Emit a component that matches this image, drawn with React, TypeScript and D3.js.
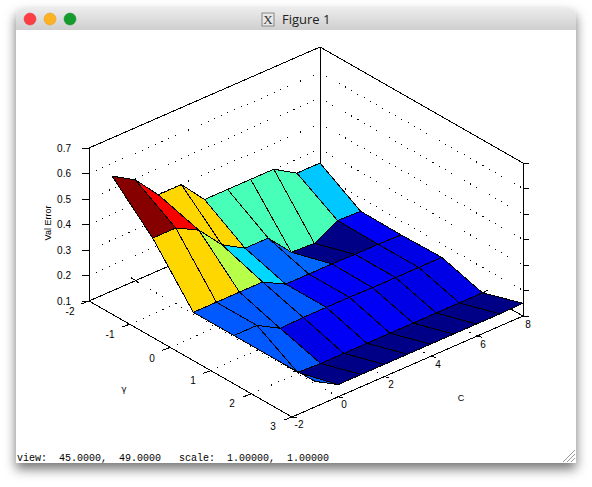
import React from "react";
import * as d3 from "d3";

const cValues = [-1, 0, 1, 2, 3, 4, 5, 6, 7, 8];
const gammaValues = [-2, -1, 0, 1, 2, 3];
const errGammaM2 = [0.55, 0.496, 0.398, 0.398, 0.3, 0.3, 0.3, 0.3, 0.245, 0.245];
const errGammaM1 = [0.398, 0.398, 0.35, 0.253, 0.2, 0.2, 0.105, 0.1, 0.15, 0.147];
const errGamma0 = [0.198, 0.198, 0.198, 0.198, 0.15, 0.15, 0.15, 0.148, 0.148, 0.145];
const errGamma1 = [0.198, 0.198, 0.147, 0.15, 0.15, 0.15, 0.148, 0.148, 0.148, 0.148];
const errGamma2 = [0.198, 0.105, 0.1, 0.1, 0.1, 0.1, 0.1, 0.1, 0.1, 0.1];
const errGamma3 = [0.2, 0.148, 0.148, 0.148, 0.148, 0.148, 0.148, 0.148, 0.148, 0.15];
const errRows = [errGammaM2, errGammaM1, errGamma0, errGamma1, errGamma2, errGamma3];

const zTicks = [0.1, 0.2, 0.3, 0.4, 0.5, 0.6, 0.7];
const gammaTicks = [-2, -1, 0, 1, 2, 3];
const cTicks = [-2, 0, 2, 4, 6, 8];
const statusText = "view:  45.0000,  49.0000   scale:  1.00000,  1.00000";

// Projection of the 3D box on the page
const cScale = d3.scaleLinear().domain([-2, 8]).range([0, 1]);
const gScale = d3.scaleLinear().domain([-2, 3]).range([0, 1]);
const zScale = d3.scaleLinear().domain([0.1, 0.7]).range([0, 153]);
const ORIGIN = [89, 301];
const C_VEC = [231, -101];
const G_VEC = [203, 116];
const project = (c: number, g: number, z: number): [number, number] => {
  const u = cScale(c);
  const v = gScale(g);
  return [ORIGIN[0] + u * C_VEC[0] + v * G_VEC[0], ORIGIN[1] + u * C_VEC[1] + v * G_VEC[1] - zScale(z)];
};

const jetLevel = d3.scaleQuantize<number>().domain([0.1, 0.55]).range(d3.range(64).map((i) => (i + 0.5) / 64));
const jet = (z: number) => {
  const t = jetLevel(z);
  const ch = (v: number) => Math.round(255 * Math.max(0, Math.min(1, v)));
  return d3.rgb(
    ch(Math.min(4 * t - 1.5, -4 * t + 4.5)),
    ch(Math.min(4 * t - 0.5, -4 * t + 3.5)),
    ch(Math.min(4 * t + 0.5, -4 * t + 2.5))
  ).formatHex();
};

const line = d3.line();
const SANS = "'Liberation Sans', Arial, sans-serif";
const zMin = 0.1;
const zMax = 0.7;

export default function App() {
  const faces: { key: string; d: string; fill: string }[] = [];
  for (let g = 0; g < gammaValues.length - 1; g++) {
    for (let c = cValues.length - 2; c >= 0; c--) {
      const pts = [
        project(cValues[c], gammaValues[g], errRows[g][c]),
        project(cValues[c + 1], gammaValues[g], errRows[g][c + 1]),
        project(cValues[c + 1], gammaValues[g + 1], errRows[g + 1][c + 1]),
        project(cValues[c], gammaValues[g + 1], errRows[g + 1][c]),
      ];
      faces.push({ key: `${g}-${c}`, d: line(pts)! + "Z", fill: jet(errRows[g][c]) });
    }
  }
  const seg = (a: [number, number], b: [number, number]) => line([a, b])!;
  const inner = gammaTicks.slice(1, -1);
  const innerC = cTicks.slice(1, -1);
  const dotted = [
    ...zTicks.slice(1, -1).flatMap((z) => [
      seg(project(-2, -2, z), project(8, -2, z)),
      seg(project(8, -2, z), project(8, 3, z)),
    ]),
    ...inner.map((g) => seg(project(-2, g, zMin), project(8, g, zMin))),
    ...innerC.map((c) => seg(project(c, 3, zMin), project(c, -2, zMin))),
  ];
  const backBox = [
    seg(project(-2, -2, zMin), project(8, -2, zMin)),
    seg(project(8, -2, zMin), project(8, 3, zMin)),
    seg(project(8, -2, zMin), project(8, -2, zMax)),
    seg(project(-2, -2, zMax), project(8, -2, zMax)),
    seg(project(8, -2, zMax), project(8, 3, zMax)),
    seg(project(-2, -2, zMin), project(-2, -2, zMax)),
    seg(project(8, 3, zMin), project(8, 3, zMax)),
  ];
  const [lx] = project(-2, -2, zMin);
  const [rx] = project(8, 3, zMin);
  const backTicks = [
    ...zTicks.map((z) => seg([lx - 7, project(-2, -2, z)[1]], [lx, project(-2, -2, z)[1]])),
    ...zTicks.map((z) => seg([rx, project(8, 3, z)[1]], [rx + 6, project(8, 3, z)[1]])),
    ...innerC.map((c) => {
      const [x, y] = project(c, -2, zMin);
      return seg([x - 4, y - 3], [x + 4, y + 2]);
    }),
    ...inner.map((g) => {
      const [x, y] = project(8, g, zMin);
      return seg([x - 1, y + 1], [x + 6, y - 3]);
    }),
  ];
  const frontAxes = [
    seg(project(-2, -2, zMin), project(-2, 3, zMin)),
    seg(project(-2, 3, zMin), project(8, 3, zMin)),
    ...gammaTicks.map((g) => {
      const [x, y] = project(-2, g, zMin);
      return seg([x - 8, y + 3], [x, y]);
    }),
    ...cTicks.map((c) => {
      const [x, y] = project(c, 3, zMin);
      return seg([x, y], [x + 5, y + 1]);
    }),
  ];
  const gammaLabelPos: [number, number][] = [[70, 311.5], [110, 334], [152, 358], [193, 380], [232, 403], [273, 426]];
  const cLabelPos: [number, number][] = [[299, 424], [344, 404], [391, 384], [438, 364], [483, 344], [528, 324]];
  const crisp = { shapeRendering: "crispEdges" as const };

  return (
    <svg width={592} height={487} style={{ position: "absolute", left: 0, top: 0, background: "#fff" }}>
      <defs>
        <linearGradient id="title" x1="0" y1="0" x2="0" y2="1">
          <stop offset="0" stopColor="#ececec" />
          <stop offset="1" stopColor="#cfcfcf" />
        </linearGradient>
        <filter id="shadow" x="-10%" y="-10%" width="120%" height="125%">
          <feDropShadow dx="0" dy="6" stdDeviation="6" floodColor="#000" floodOpacity="0.55" />
        </filter>
        <clipPath id="win">
          <path d="M16 463V14a6 6 0 0 1 6-6H570a6 6 0 0 1 6 6V463Z" />
        </clipPath>
      </defs>
      <path d="M16 463V14a6 6 0 0 1 6-6H570a6 6 0 0 1 6 6V463Z" fill="#fff" filter="url(#shadow)" />
      <g clipPath="url(#win)">
        <rect x={16} y={8} width={560} height={22} fill="url(#title)" />
        <rect x={16} y={30} width={560} height={433} fill="#fff" />
      </g>
      <circle cx={30} cy={19} r={6} fill="#fc3e45" stroke="#e0343a" strokeWidth={0.5} />
      <circle cx={50} cy={19} r={6} fill="#fdb124" stroke="#e09a1c" strokeWidth={0.5} />
      <circle cx={70} cy={19} r={6} fill="#159c2c" stroke="#128a26" strokeWidth={0.5} />
      <rect x={262} y={13} width={12} height={13} fill="#e8e8e8" stroke="#888" strokeWidth={1} />
      <text x={268} y={24} textAnchor="middle" fontFamily="'Liberation Serif', serif" fontSize={13} fill="#333">X</text>
      <text x={282} y={24} fontFamily="'Open Sans', 'Liberation Sans', sans-serif" fontSize={13} fill="#222">Figure 1</text>

      <g fill="none" stroke="#000" strokeWidth={1} strokeDasharray="1 6.2" {...crisp}>
        {dotted.map((d, i) => <path key={i} d={d} />)}
      </g>
      <g fill="none" stroke="#000" strokeWidth={1} {...crisp}>
        {backBox.map((d, i) => <path key={i} d={d} />)}
        {backTicks.map((d, i) => <path key={i} d={d} />)}
      </g>
      <g stroke="#000" strokeWidth={1} strokeLinejoin="round" {...crisp}>
        {faces.map((f) => <path key={f.key} d={f.d} fill={f.fill} />)}
      </g>
      <g fill="none" stroke="#000" strokeWidth={1} {...crisp}>
        {frontAxes.map((d, i) => <path key={i} d={d} />)}
      </g>

      <g fontFamily={SANS} fontSize={10} fill="#000">
        {zTicks.map((z) => (
          <text key={z} x={71} y={project(-2, -2, z)[1] + 3.5} textAnchor="end">{z.toFixed(1)}</text>
        ))}
        {gammaTicks.map((g, i) => (
          <text key={g} x={gammaLabelPos[i][0]} y={gammaLabelPos[i][1] + 3.5} textAnchor="middle">{g}</text>
        ))}
        {cTicks.map((c, i) => (
          <text key={c} x={cLabelPos[i][0]} y={cLabelPos[i][1] + 3.5} textAnchor="middle">{c}</text>
        ))}
        <text x={124} y={392} textAnchor="middle" fontFamily="'DejaVu Sans', sans-serif" fontSize={9}>γ</text>
        <text x={461} y={401} textAnchor="middle" fontSize={9}>C</text>
        <text transform="translate(51,223) rotate(-90)" textAnchor="middle" fontSize={9}>Val Error</text>
      </g>

      <text x={17} y={461} fontFamily="'Liberation Mono', monospace" fontSize={10} fill="#000" xmlSpace="preserve">{statusText}</text>

      <g stroke="#9a9a9a" strokeWidth={1}>
        <path d="M563 462L575 450" />
        <path d="M567 462L575 454" />
        <path d="M571 462L575 458" />
      </g>
    </svg>
  );
}
